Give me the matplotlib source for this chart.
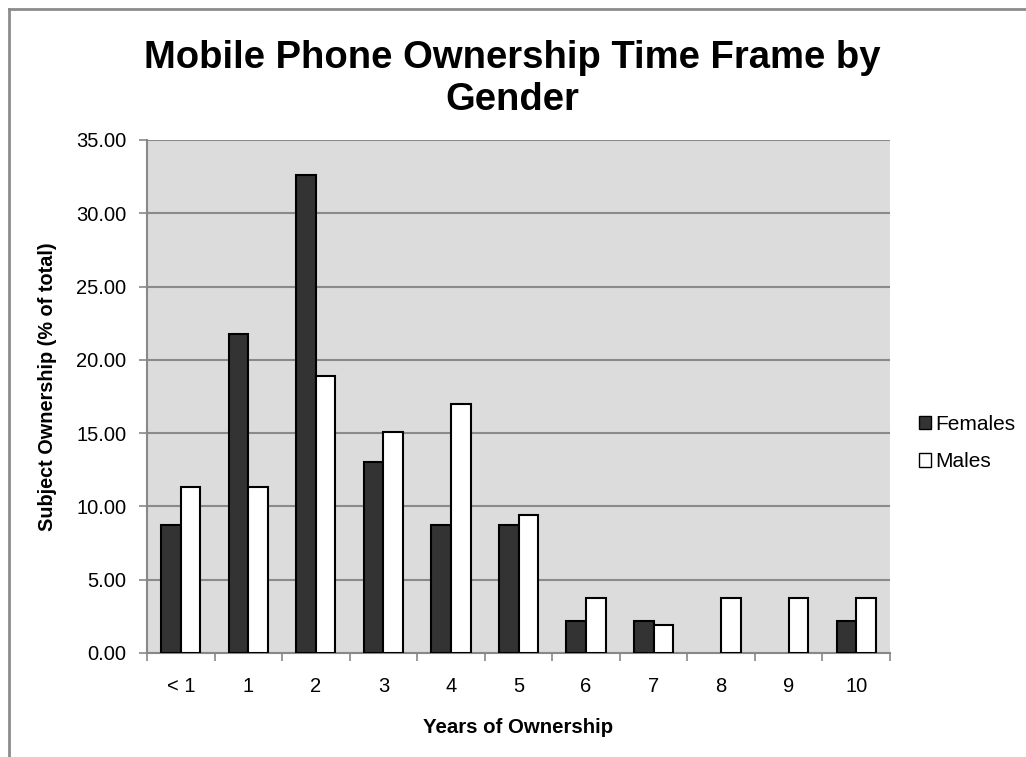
import matplotlib
matplotlib.use("Agg")
import matplotlib.pyplot as plt
from matplotlib.lines import Line2D
from matplotlib.patches import Patch
import numpy as np

plt.rcParams['font.family'] = ['Liberation Sans', 'DejaVu Sans']

categories = ["< 1", "1", "2", "3", "4", "5", "6", "7", "8", "9", "10"]
females = [8.70, 21.74, 32.61, 13.04, 8.70, 8.70, 2.17, 2.17, 0.0, 0.0, 2.17]
males = [11.32, 11.32, 18.87, 15.09, 16.98, 9.43, 3.77, 1.89, 3.77, 3.77, 3.77]
yticks = [0, 5, 10, 15, 20, 25, 30, 35]

fig = plt.figure(figsize=(10.26, 7.57), dpi=100)
ax = fig.add_axes([147/1026, 1 - 653/757, (890-147)/1026, (653-140)/757])
ax.set_facecolor('#dcdcdc')

x = np.arange(len(categories))
w = 0.29
fb = ax.bar(x - w/2, females, w, color='#333333', edgecolor='black', linewidth=1.5, label='Females', zorder=3)
mb = ax.bar(x + w/2, males, w, color='white', edgecolor='black', linewidth=1.5, label='Males', zorder=3)
for rect, v in zip(fb, females):
    if v == 0:
        rect.set_visible(False)
for rect, v in zip(mb, males):
    if v == 0:
        rect.set_visible(False)

ax.set_xlim(-0.5, len(categories) - 0.5)
ax.set_ylim(0, 35)
ax.set_yticks(yticks)
ax.set_yticklabels([f"{v:.2f}" for v in yticks], fontsize=14.5)
ax.set_xticks(x)
ax.set_xticklabels(categories, fontsize=14.5)
ax.tick_params(axis='x', which='major', length=0, pad=17)
ax.set_xticks(np.arange(len(categories) + 1) - 0.5, minor=True)
ax.tick_params(axis='x', which='minor', length=6, color='#888888', width=1.2)
ax.tick_params(axis='y', length=6, color='#888888', width=1.2, pad=9)
ax.grid(axis='y', color='#8a8a8a', linewidth=1.5, zorder=0)
ax.set_axisbelow(True)
for s in ['top', 'right']:
    ax.spines[s].set_visible(False)
for s in ['left', 'bottom']:
    ax.spines[s].set_color('#888888')
    ax.spines[s].set_linewidth(1.5)

ax.set_ylabel('Subject Ownership (% of total)', fontsize=14.3, fontweight='bold')
ax.yaxis.set_label_coords(-0.1211, 0.5185)
ax.set_xlabel('Years of Ownership', fontsize=14.7, fontweight='bold', labelpad=16)

fig.text(512/1026, 1 - 79/757, 'Mobile Phone Ownership Time Frame by\nGender', ha='center', va='center',
         fontsize=27.5, fontweight='bold', linespacing=1.22)

handles = [Patch(facecolor='#333333', edgecolor='black', label='Females'),
           Patch(facecolor='white', edgecolor='black', label='Males')]
fig.legend(handles=handles, loc='center left', bbox_to_anchor=(900/1026, 1 - 443/757), frameon=False,
           fontsize=15, handlelength=0.6, handleheight=0.6, handletextpad=0.2, labelspacing=0.9)

# figure border (top and left)
fig.add_artist(Line2D([9/1026, 1], [1 - 9/757, 1 - 9/757], color='#8c8c8c', linewidth=2, transform=fig.transFigure))
fig.add_artist(Line2D([9/1026, 9/1026], [0, 1 - 9/757], color='#8c8c8c', linewidth=2, transform=fig.transFigure))

fig.savefig('out.png', dpi=100)
